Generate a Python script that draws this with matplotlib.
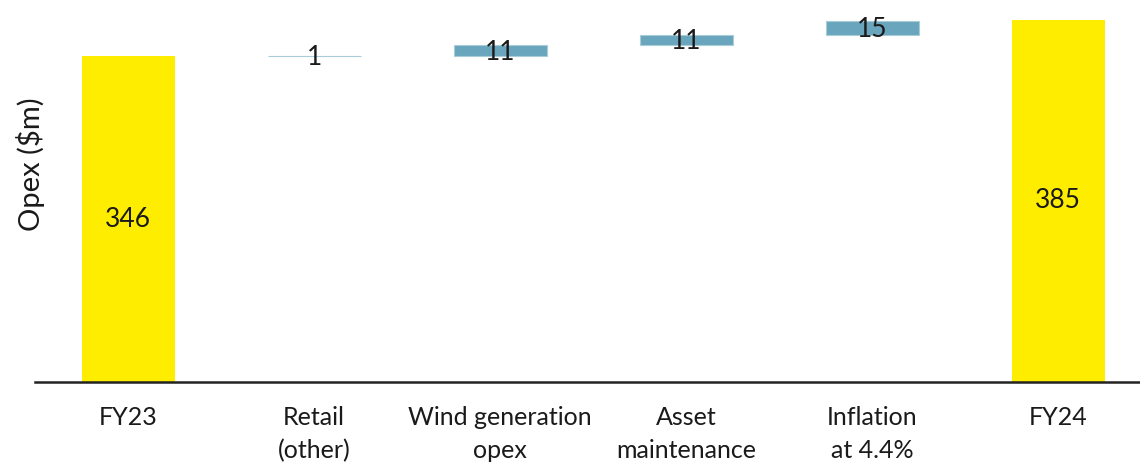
import numpy as np
import matplotlib.pyplot as plt

plt.rcParams['font.family'] = ['Lato', 'DejaVu Sans']

categories = ['FY23', 'Retail\n(other)', 'Wind generation\nopex', 'Asset\nmaintenance',
              'Inflation\nat 4.4%', 'FY24']
start_total = 346
changes = [1, 11, 11, 15]
end_total = 385

yellow = '#FFED00'
blue = '#69A5BC'
text_col = '#1a1a1a'

fig = plt.figure(figsize=(11.4, 4.62), dpi=100)
ax = fig.add_axes([0.0307, 0.1732, 0.9693, 0.8268])

x = np.arange(len(categories))
w = 0.5

# opening and closing totals
ax.bar(x[0], start_total, width=w, color=yellow)
ax.bar(x[-1], end_total, width=w, color=yellow)
ax.text(x[0], start_total / 2, str(start_total), ha='center', va='center', fontsize=19, color=text_col)
ax.text(x[-1], end_total / 2, str(end_total), ha='center', va='center', fontsize=19, color=text_col)

# floating increments
base = start_total
for i, d in enumerate(changes):
    xi = x[i + 1]
    ax.bar(xi, d, bottom=base, width=w, color=blue, edgecolor='#A9CCD9', linewidth=0.8)
    ax.text(xi, base + d / 2 - 2, str(d), ha='center', va='center', fontsize=19, color=text_col)
    base += d

ax.set_xlim(-0.5, 5.44)
ax.set_ylim(0, 406)
ax.set_xticks(x)
ax.set_xticklabels(categories, fontsize=18, color=text_col, linespacing=1.55)
ax.tick_params(axis='x', length=0, pad=17)
ax.set_yticks([])
for s in ['top', 'right', 'left']:
    ax.spines[s].set_visible(False)
ax.spines['bottom'].set_linewidth(1.8)
ax.spines['bottom'].set_color('#222222')
ax.set_ylabel('Opex ($m)', fontsize=21, color=text_col)
ax.yaxis.set_label_coords(0.009, 0.57)

fig.savefig('out.png', dpi=100)
